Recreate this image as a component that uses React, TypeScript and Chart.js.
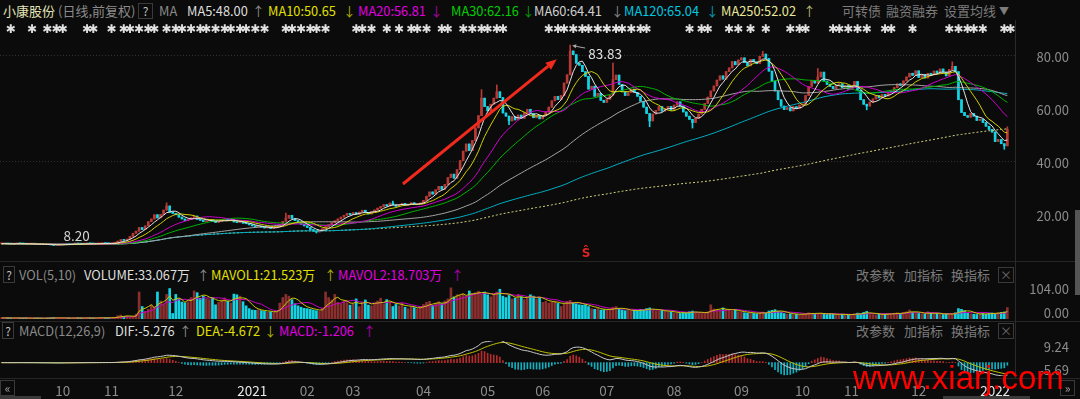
import React, { useEffect, useRef } from "react";
import { Chart, registerables } from "chart.js";

Chart.register(...registerables);

// ---------------- DATA ----------------
// Daily closes, one array per month (trading days)
const CLOSE_2020_09 = [8.85, 8.92, 8.8, 8.74, 8.81, 8.95, 8.88, 8.79, 8.7, 8.76, 8.82, 8.69, 8.63, 8.58, 8.61, 8.52, 8.44, 8.3, 8.38, 8.47];
const CLOSE_2020_10 = [8.62, 8.7, 8.66, 8.78, 8.85, 8.79, 8.72, 8.8, 8.91, 8.86, 8.78, 8.83, 8.95, 9.02, 8.94, 8.88];
const CLOSE_2020_11 = [9.05, 9.2, 9.85, 10.4, 10.15, 10.6, 11.66, 12.83, 13.6, 14.96, 14.2, 15.6, 17.16, 18.2, 19.8, 18.6, 19.9, 21.56, 23.1, 20.8, 20.3];
const CLOSE_2020_12 = [19.8, 18.9, 18.2, 17.6, 17.95, 18.6, 19.3, 18.1, 17.7, 17.2, 17.55, 17.9, 17.4, 16.9, 17.3, 17.8, 18.2, 17.6, 17.9, 17.1, 16.8, 17.2, 16.6];
const CLOSE_2021_01 = [16.4, 16.0, 15.6, 15.2, 15.5, 15.1, 14.8, 15.0, 14.6, 14.9, 15.3, 16.2, 17.3, 18.5, 19.6, 18.4, 17.6, 17.0, 16.2, 15.6];
const CLOSE_2021_02 = [15.0, 14.2, 13.6, 13.3, 13.8, 14.5, 15.3, 16.1, 16.8, 17.5, 18.2, 18.9, 19.6, 20.3, 19.8];
const CLOSE_2021_03 = [20.6, 19.9, 20.8, 21.5, 20.7, 20.1, 20.9, 21.6, 22.3, 22.9, 23.6, 23.1, 24.2, 23.5, 23.0, 23.7, 24.1, 23.4, 23.8, 24.3, 23.6, 23.9, 24.2];
const CLOSE_2021_04 = [25.2, 26.8, 28.4, 27.6, 29.2, 30.5, 29.4, 31.2, 33.8, 35.1, 33.6, 36.8, 40.2, 43.8, 46.5, 44.0, 47.8, 52.6, 57.2, 63.8, 60.6];
const CLOSE_2021_05 = [59.0, 61.5, 63.8, 66.2, 64.0, 58.2, 57.0, 55.2, 56.8, 55.6, 57.4, 56.2, 58.3, 59.6, 58.0, 56.4, 57.3, 56.0];
const CLOSE_2021_06 = [57.2, 58.6, 60.4, 62.8, 64.5, 63.2, 64.8, 69.5, 72.6, 81.6, 80.2, 77.0, 76.2, 73.8, 72.0, 67.2, 68.3, 64.5, 65.6, 63.0, 62.2];
const CLOSE_2021_07 = [63.4, 64.9, 70.8, 72.5, 69.0, 66.2, 64.8, 65.9, 67.2, 66.0, 64.5, 62.6, 60.4, 58.0, 55.2, 57.8, 59.2, 60.6, 58.9, 59.8, 60.7, 59.3];
const CLOSE_2021_08 = [61.2, 62.4, 60.8, 58.6, 57.0, 55.8, 54.6, 56.2, 57.8, 59.6, 61.8, 64.2, 66.5, 68.4, 70.6, 72.2, 71.0, 73.8, 75.2, 77.6, 76.4, 78.2];
const CLOSE_2021_09 = [79.0, 77.2, 76.0, 78.4, 77.5, 76.8, 79.6, 80.4, 78.8, 74.0, 70.2, 66.5, 63.2, 60.8, 59.5, 60.2, 59.0, 60.6, 59.8, 61.2];
const CLOSE_2021_10 = [61.6, 64.8, 68.2, 70.4, 69.5, 71.8, 73.6, 70.2, 69.0, 68.2, 67.4, 68.6, 69.2, 67.8, 68.5, 67.2];
const CLOSE_2021_11 = [68.4, 70.1, 66.8, 63.2, 61.5, 60.8, 62.3, 63.5, 64.8, 63.9, 65.2, 64.6, 65.8, 66.5, 67.8, 69.2, 68.6, 70.3, 71.8, 73.2, 72.4, 74.1];
const CLOSE_2021_12 = [71.6, 72.8, 71.4, 73.2, 72.6, 74.0, 73.2, 74.8, 73.6, 72.2, 74.6, 75.8, 73.8, 63.2, 58.4, 57.2, 56.6, 58.0, 57.0, 55.4, 55.8, 54.6, 53.2];
const CLOSE_2022_01 = [52.0, 51.0, 47.4, 48.2, 46.6, 45.8, 52.0];

// Daily volume (万手), one array per month
const VOL_2020_09 = [3.2, 2.8, 3.5, 2.6, 2.9, 3.1, 2.4, 2.7, 3.0, 2.5, 2.2, 2.6, 2.9, 2.4, 2.1, 2.8, 3.4, 4.1, 3.0, 2.6];
const VOL_2020_10 = [2.5, 2.8, 3.1, 2.6, 2.9, 3.3, 2.7, 2.4, 3.6, 3.0, 2.6, 2.8, 3.9, 4.4, 3.2, 2.9];
const VOL_2020_11 = [3.5, 5.2, 9.8, 11.5, 7.6, 8.9, 6.2, 5.5, 14.0, 78.0, 36.0, 22.0, 28.0, 41.0, 35.0, 78.0, 52.0, 44.0, 71.0, 88.0, 16.0];
const VOL_2020_12 = [71, 58, 49, 47, 50, 62, 81, 76, 60, 66, 58, 56, 62, 41, 48, 55, 61, 52, 46, 72, 70, 66, 50];
const VOL_2021_01 = [38, 30, 26, 25, 27, 24, 22, 20, 21, 19, 23, 46, 62, 71, 66, 56, 44, 38, 34, 31];
const VOL_2021_02 = [30, 28, 26, 24, 22, 31, 78, 62, 55, 71, 48, 44, 52, 47, 40];
const VOL_2021_03 = [45, 58, 36, 48, 55, 40, 38, 46, 52, 60, 44, 56, 48, 36, 42, 38, 46, 34, 30, 36, 33, 29, 35];
const VOL_2021_04 = [42, 48, 51, 39, 46, 50, 44, 52, 58, 90, 64, 70, 68, 72, 66, 81, 74, 76, 80, 72, 78];
const VOL_2021_05 = [70, 64, 72, 78, 86, 66, 62, 68, 58, 60, 71, 64, 56, 61, 70, 66, 58, 62];
const VOL_2021_06 = [48, 51, 46, 50, 52, 45, 36, 44, 51, 54, 46, 44, 41, 40, 41, 36, 30, 28, 31, 26, 27];
const VOL_2021_07 = [26, 28, 34, 36, 30, 26, 24, 25, 23, 26, 24, 28, 27, 30, 32, 26, 24, 23, 25, 22, 21, 20];
const VOL_2021_08 = [18, 17, 16, 19, 18, 21, 23, 20, 17, 16, 18, 21, 41, 29, 27, 25, 32, 28, 26, 23, 25, 21];
const VOL_2021_09 = [20, 18, 17, 19, 16, 15, 18, 20, 17, 23, 25, 27, 22, 19, 16, 14, 15, 13, 14, 13];
const VOL_2021_10 = [14, 16, 18, 17, 15, 16, 17, 14, 13, 15, 14, 13, 12, 14, 13, 12];
const VOL_2021_11 = [13, 15, 17, 16, 19, 22, 15, 13, 12, 14, 13, 15, 16, 14, 17, 18, 16, 19, 21, 26, 20, 18];
const VOL_2021_12 = [16, 15, 14, 21, 17, 15, 16, 14, 13, 15, 14, 16, 18, 30, 28, 24, 17, 15, 14, 13, 15, 16, 14];
const VOL_2022_01 = [17.0, 17.5, 16.5, 18.4, 19.2, 20.4, 33.07];

// Notable wick extremes: [day index, price]
const HIGH_WICKS = [[54, 24.3], [93, 20.4], [128, 25.0], [157, 67.0], [162, 68.8], [186, 83.83], [200, 77.0], [249, 81.5], [267, 75.0], [311, 77.5], [329, 53.0]];
const LOW_WICKS = [[17, 8.2], [103, 12.9], [166, 53.8], [212, 53.0], [226, 52.5], [283, 59.4], [328, 44.5]];

// Month tick labels (first trading day of each month after the first, partial month)
const MONTH_TICK_LABELS = ["10", "11", "12", "2021", "02", "03", "04", "05", "06", "07", "08", "09", "10", "11", "12", "2022"];

// Axis tick values
const PRICE_TICKS = [20, 40, 60, 80];
const PRICE_GRID = [40, 80];
const VOL_AXIS = [0, 104];
const MACD_AXIS = [-5.69, 9.24];

// Information-mine markers (day indices)
const INFO_MARKER_DAYS = [3, 10, 15, 18, 20, 28, 30, 36, 40, 42, 45, 48, 50, 54, 57, 59, 62, 65, 67, 70, 73, 75, 78, 80, 83, 86, 93, 95, 98, 101, 103, 106, 116, 118, 121, 126, 130, 134, 136, 139, 144, 146, 151, 154, 157, 159, 162, 164, 179, 182, 184, 187, 190, 192, 195, 198, 201, 203, 206, 209, 211, 225, 229, 231, 238, 241, 245, 250, 258, 261, 263, 272, 274, 277, 280, 283, 289, 291, 298, 310, 313, 316, 318, 321, 328, 330];

// Red trend-arrow annotation in data coordinates [day index, price]
const TREND_ARROW_FROM = [131.3, 31.4];
const TREND_ARROW_TO = [181.6, 78.5];
const S_MARK = [191.2, 5.0];

// ---------------- DERIVED ----------------
const MONTHS_CLOSE = [CLOSE_2020_09, CLOSE_2020_10, CLOSE_2020_11, CLOSE_2020_12, CLOSE_2021_01, CLOSE_2021_02, CLOSE_2021_03, CLOSE_2021_04, CLOSE_2021_05, CLOSE_2021_06, CLOSE_2021_07, CLOSE_2021_08, CLOSE_2021_09, CLOSE_2021_10, CLOSE_2021_11, CLOSE_2021_12, CLOSE_2022_01];
const MONTHS_VOL = [VOL_2020_09, VOL_2020_10, VOL_2020_11, VOL_2020_12, VOL_2021_01, VOL_2021_02, VOL_2021_03, VOL_2021_04, VOL_2021_05, VOL_2021_06, VOL_2021_07, VOL_2021_08, VOL_2021_09, VOL_2021_10, VOL_2021_11, VOL_2021_12, VOL_2022_01];
const CLOSES: number[] = MONTHS_CLOSE.flat();
const VOLUMES: number[] = MONTHS_VOL.flat();
const N = CLOSES.length;
const SLOTS = N + 2;
const OPENS = CLOSES.map((c, i) => (i === 0 ? c : CLOSES[i - 1]));
const hiMap = new Map(HIGH_WICKS.map(([i, v]) => [i, v]));
const loMap = new Map(LOW_WICKS.map(([i, v]) => [i, v]));
const HIGHS = CLOSES.map((c, i) => Math.max(c, OPENS[i], hiMap.get(i) ?? -Infinity));
const LOWS = CLOSES.map((c, i) => Math.min(c, OPENS[i], loMap.get(i) ?? Infinity));
const UP = CLOSES.map((c, i) => c >= OPENS[i]);

const MONTH_START: number[] = [];
{
  let acc = 0;
  for (const m of MONTHS_CLOSE) { MONTH_START.push(acc); acc += m.length; }
}
const YEAR_LABEL_SHIFT = 2;
const TICK_AT = new Map<number, string>();
MONTH_TICK_LABELS.forEach((lab, k) => {
  const s = MONTH_START[k + 1] + (lab.length === 4 ? YEAR_LABEL_SHIFT : 0);
  TICK_AT.set(s, lab);
});

function sma(vals: number[], n: number) {
  return vals.map((_, i) => {
    const s = Math.max(0, i - n + 1);
    let sum = 0;
    for (let k = s; k <= i; k++) sum += vals[k];
    return sum / (i - s + 1);
  });
}
function ema(vals: number[], n: number) {
  const a = 2 / (n + 1);
  const out: number[] = [];
  let prev = vals[0];
  vals.forEach((v, i) => { prev = i === 0 ? v : a * v + (1 - a) * prev; out.push(prev); });
  return out;
}
const E12 = ema(CLOSES, 12);
const E26 = ema(CLOSES, 26);
const DIF = E12.map((v, i) => v - E26[i]);
const DEA = ema(DIF, 9);
const MACD = DIF.map((v, i) => 2 * (v - DEA[i]));

// ---------------- STYLE ----------------
const BG = "#0b0b0b";
const RED = "#b83a36";
const CYAN = "#14d4e4";
const VOL_RED = "#8a2e2e";
const FONT = '"Noto Sans CJK SC", "Noto Sans", sans-serif';
const AXIS_W = 54;
const PAD_R = 11;
const HS = 12.8; // header latin font size
const MA_STYLE = [
  { n: 5, color: "#e4e4e4", dash: [] as number[] },
  { n: 10, color: "#d2d200", dash: [] },
  { n: 20, color: "#d000d0", dash: [] },
  { n: 30, color: "#00b400", dash: [] },
  { n: 60, color: "#a4a4a4", dash: [] },
  { n: 120, color: "#00aec4", dash: [] },
  { n: 250, color: "#d6d680", dash: [2, 2] },
];

const LABELS = Array.from({ length: SLOTS }, (_, i) => String(i));

function xScale(display: boolean): any {
  const s: any = {
    type: "category",
    offset: true,
    display,
    grid: { display: false, drawTicks: true, tickLength: 7 },
    border: { display: false },
    ticks: {
      autoSkip: false,
      maxRotation: 0,
      minRotation: 0,
      padding: 0,
      color: (c: any) => ((TICK_AT.get(c.index) || "").length === 4 ? "#e8e8e8" : "#8c8c8c"),
      font: { family: FONT, size: 13.5 },
      callback: (_v: any, i: number) => TICK_AT.get(i) ?? "",
    },
    afterFit: (sc: any) => {
      sc.paddingLeft = 0;
      sc.paddingRight = 0;
      if (display) sc.height = 23;
    },
  };
  return s;
}

function yFit(s: any) {
  s.width = AXIS_W;
  s.paddingTop = 0;
  s.paddingBottom = 0;
}

function edgeTicks(min: number, max: number, areaH: number, insetPx: number) {
  const inset = ((max - min) * insetPx) / areaH;
  return {
    afterBuildTicks: (s: any) => { s.ticks = [{ value: min + inset }, { value: max - inset }]; },
    ticks: {
      autoSkip: false,
      color: "#8c8c8c",
      font: { family: FONT, size: 13 },
      padding: 0,
      crossAlign: "far",
      callback: (_v: any, i: number) => (i === 0 ? min : max).toFixed(2),
    },
  };
}

function drawArrow(ctx: CanvasRenderingContext2D, x1: number, y1: number, x2: number, y2: number, color: string, w: number, hl: number, hw: number) {
  const a = Math.atan2(y2 - y1, x2 - x1);
  const bx = x2 - hl * Math.cos(a);
  const by = y2 - hl * Math.sin(a);
  ctx.strokeStyle = color;
  ctx.lineWidth = w;
  ctx.beginPath();
  ctx.moveTo(x1, y1);
  ctx.lineTo(bx, by);
  ctx.stroke();
  ctx.fillStyle = color;
  ctx.beginPath();
  ctx.moveTo(x2, y2);
  ctx.lineTo(bx + (hw / 2) * Math.sin(a), by - (hw / 2) * Math.cos(a));
  ctx.lineTo(bx - (hw / 2) * Math.sin(a), by + (hw / 2) * Math.cos(a));
  ctx.closePath();
  ctx.fill();
}

const priceAnnotations = {
  id: "priceAnnotations",
  afterDatasetsDraw(chart: any) {
    const { ctx } = chart;
    const x = chart.scales.x;
    const y = chart.scales.y;
    ctx.save();
    // info markers row
    ctx.fillStyle = "#e0e0e0";
    ctx.font = 'bold 12px "DejaVu Sans"';
    ctx.textAlign = "center";
    ctx.textBaseline = "middle";
    for (const d of INFO_MARKER_DAYS) ctx.fillText("\u2731", x.getPixelForValue(d), 10);
    // peak label
    let pk = 0;
    HIGHS.forEach((h, i) => { if (h > HIGHS[pk]) pk = i; });
    const px = x.getPixelForValue(pk);
    const py = y.getPixelForValue(HIGHS[pk]);
    drawArrow(ctx, px + 15, py + 3, px + 2, py + 0.5, "#a8a8a8", 1, 4, 4);
    ctx.fillStyle = "#e2e2e2";
    ctx.font = `13.5px ${FONT}`;
    ctx.textAlign = "left";
    ctx.fillText(HIGHS[pk].toFixed(2), px + 18, py + 9);
    // low label
    let lo = 0;
    LOWS.forEach((l, i) => { if (l < LOWS[lo]) lo = i; });
    const lx = x.getPixelForValue(lo);
    const ly = y.getPixelForValue(LOWS[lo]);
    ctx.fillStyle = "#d4d4d4";
    ctx.fillText(LOWS[lo].toFixed(2), lx + 10, ly - 9.5);
    // trend arrow
    drawArrow(
      ctx,
      x.getPixelForValue(TREND_ARROW_FROM[0]), y.getPixelForValue(TREND_ARROW_FROM[1]),
      x.getPixelForValue(TREND_ARROW_TO[0]), y.getPixelForValue(TREND_ARROW_TO[1]),
      "#f02a1c", 3, 11, 9
    );
    // S marker
    ctx.fillStyle = "#e02424";
    ctx.font = 'bold 12px "DejaVu Sans"';
    ctx.textAlign = "center";
    ctx.fillText("\u015C", x.getPixelForValue(S_MARK[0]), y.getPixelForValue(S_MARK[1]));
    ctx.restore();
  },
};

function Txt({ x, y, c, s = HS, children }: any) {
  return (
    <span style={{ position: "absolute", left: x, top: y - s * 0.75, fontSize: s, lineHeight: `${s * 1.5}px`, color: c, whiteSpace: "nowrap", fontFamily: FONT }}>
      {children}
    </span>
  );
}
function Box({ x, y, w, h, children, c = "#c0c0c0" }: any) {
  return (
    <div style={{ position: "absolute", left: x, top: y, width: w, height: h, border: "1px solid #3a3a3a", boxSizing: "border-box", color: c, fontSize: 12, lineHeight: `${h - 2}px`, textAlign: "center", fontFamily: FONT }}>
      {children}
    </div>
  );
}
function Line({ x, y, w, h, c = "#262626" }: any) {
  return <div style={{ position: "absolute", left: x, top: y, width: w, height: h, background: c }} />;
}

export default function App() {
  const priceRef = useRef<HTMLCanvasElement>(null);
  const volRef = useRef<HTMLCanvasElement>(null);
  const macdRef = useRef<HTMLCanvasElement>(null);

  useEffect(() => {
    const charts: Chart[] = [];
    const common: any = {
      responsive: false,
      animation: false,
      devicePixelRatio: 1,
      events: [],
      plugins: { legend: { display: false }, tooltip: { enabled: false } },
    };

    // ---- Price chart ----
    charts.push(
      new Chart(priceRef.current!, {
        type: "bar",
        data: {
          labels: LABELS,
          datasets: [
            ...MA_STYLE.map((m) => ({
              type: "line" as const,
              data: sma(CLOSES, m.n),
              borderColor: m.color,
              borderWidth: 1,
              borderDash: m.dash,
              pointRadius: 0,
              tension: 0,
              fill: false,
              order: 0,
            })),
            {
              type: "bar" as const,
              data: CLOSES.map((c, i) => [OPENS[i], c]),
              backgroundColor: UP.map((u) => (u ? RED : CYAN)),
              barThickness: 2,
              grouped: false,
              minBarLength: 1,
              order: 1,
            },
            {
              type: "bar" as const,
              data: CLOSES.map((_c, i) => [LOWS[i], HIGHS[i]]),
              backgroundColor: UP.map((u) => (u ? RED : CYAN)),
              barThickness: 1,
              grouped: false,
              order: 2,
            },
          ] as any,
        },
        options: {
          ...common,
          layout: { padding: { left: 0, right: PAD_R, top: 18, bottom: 0 } },
          scales: {
            x: xScale(false),
            y: {
              position: "right",
              min: 3.1,
              max: 86.5,
              afterBuildTicks: (s: any) => { s.ticks = PRICE_TICKS.map((v) => ({ value: v })); },
              afterFit: yFit,
              ticks: {
                color: "#8c8c8c",
                font: { family: FONT, size: 13 },
                padding: 0,
                crossAlign: "far",
                labelOffset: 2,
                callback: (v: any) => Number(v).toFixed(2),
              },
              grid: {
                drawTicks: false,
                color: (c: any) => (PRICE_GRID.includes(c.tick?.value) ? "#303030" : "rgba(0,0,0,0)"),
              },
              border: { display: false, dash: [1, 2] },
            },
          },
        } as any,
        plugins: [priceAnnotations],
      })
    );

    // ---- Volume chart ----
    const volEdge = edgeTicks(VOL_AXIS[0], VOL_AXIS[1], 36, 6);
    charts.push(
      new Chart(volRef.current!, {
        type: "bar",
        data: {
          labels: LABELS,
          datasets: [
            { type: "line" as const, data: sma(VOLUMES, 5), borderColor: "#c8c800", borderWidth: 1, pointRadius: 0, order: 0 },
            { type: "line" as const, data: sma(VOLUMES, 10), borderColor: "#c800c8", borderWidth: 1, pointRadius: 0, order: 0 },
            {
              type: "bar" as const,
              data: VOLUMES,
              backgroundColor: UP.map((u) => (u ? VOL_RED : CYAN)),
              barThickness: 2,
              grouped: false,
              order: 1,
            },
          ] as any,
        },
        options: {
          ...common,
          layout: { padding: { left: 0, right: PAD_R, top: 0, bottom: 0 } },
          scales: {
            x: xScale(false),
            y: {
              position: "right",
              min: VOL_AXIS[0],
              max: VOL_AXIS[1],
              afterFit: yFit,
              grid: { display: false, drawTicks: false },
              border: { display: false },
              ...volEdge,
            },
          },
        } as any,
      })
    );

    // ---- MACD chart ----
    const macdEdge = edgeTicks(MACD_AXIS[0], MACD_AXIS[1], 35, 6);
    charts.push(
      new Chart(macdRef.current!, {
        type: "bar",
        data: {
          labels: LABELS,
          datasets: [
            { type: "line" as const, data: DIF, borderColor: "#c8c8c8", borderWidth: 1, pointRadius: 0, order: 0 },
            { type: "line" as const, data: DEA, borderColor: "#c0c000", borderWidth: 1, pointRadius: 0, order: 0 },
            {
              type: "bar" as const,
              data: MACD,
              backgroundColor: MACD.map((v) => (v >= 0 ? "#b42c2c" : "#12b0c0")),
              barThickness: 1,
              grouped: false,
              order: 1,
            },
          ] as any,
        },
        options: {
          ...common,
          layout: { padding: { left: 0, right: PAD_R, top: 0, bottom: 0 } },
          scales: {
            x: xScale(true),
            y: {
              position: "right",
              min: MACD_AXIS[0],
              max: MACD_AXIS[1],
              afterFit: yFit,
              grid: { display: false, drawTicks: false },
              border: { display: false },
              ...macdEdge,
            },
          },
        } as any,
      })
    );

    return () => charts.forEach((c) => c.destroy());
  }, []);

  const gray = "#8a8a8a";
  const btn = "#7c7c7c";
  return (
    <div style={{ position: "fixed", left: 0, top: 0, width: 1080, height: 399, background: BG, overflow: "hidden", fontFamily: FONT }}>
      {/* header row */}
      <Txt x={3} y={11} c="#e2e2b6" s={13}>小康股份</Txt>
      <Txt x={58} y={11} c={gray} s={13}>(日线,前复权)</Txt>
      <Box x={138} y={3} w={15} h={16}>?</Box>
      <Txt x={159} y={11} c={gray}>MA</Txt>
      <Txt x={187} y={11} c="#dedede">MA5:48.00</Txt>
      <Txt x={252} y={11} c="#8a8a8a">↑</Txt>
      <Txt x={268} y={11} c="#e0e000">MA10:50.65</Txt>
      <Txt x={343} y={11} c="#b0b000">↓</Txt>
      <Txt x={358} y={11} c="#e000e0">MA20:56.81</Txt>
      <Txt x={430} y={11} c="#b000b0">↓</Txt>
      <Txt x={451} y={11} c="#00d000">MA30:62.16</Txt>
      <Txt x={522} y={11} c="#00a000">↓</Txt>
      <Txt x={534} y={11} c="#d0d0d0">MA60:64.41</Txt>
      <Txt x={611} y={11} c="#8a8a8a">↓</Txt>
      <Txt x={624} y={11} c="#00c8e0">MA120:65.04</Txt>
      <Txt x={706} y={11} c="#00a0b4">↓</Txt>
      <Txt x={721} y={11} c="#e8e89a">MA250:52.02</Txt>
      <Txt x={803} y={11} c="#b8b870">↑</Txt>
      <Txt x={842} y={11} c={btn} s={13}>可转债</Txt>
      <Txt x={886} y={11} c={btn} s={13}>融资融券</Txt>
      <Txt x={944} y={11} c={btn} s={13}>设置均线</Txt>
      <Txt x={999} y={10} c={btn} s={10}>▼</Txt>

      <canvas ref={priceRef} width={1080} height={239} style={{ position: "absolute", left: 0, top: 20, width: 1080, height: 239 }} />

      <Line x={0} y={261} w={1080} h={1} />
      {/* volume header */}
      <Box x={3} y={266} w={12} h={17}>?</Box>
      <Txt x={19} y={274.5} c={gray}>VOL(5,10)</Txt>
      <Txt x={84} y={274.5} c="#dedede">VOLUME:33.067万</Txt>
      <Txt x={197} y={274.5} c={gray}>↑</Txt>
      <Txt x={211} y={274.5} c="#e0e000">MAVOL1:21.523万</Txt>
      <Txt x={324} y={274.5} c="#b0b000">↑</Txt>
      <Txt x={338} y={274.5} c="#e000e0">MAVOL2:18.703万</Txt>
      <Txt x={451} y={274.5} c="#b000b0">↑</Txt>
      <Txt x={856} y={275} c={btn} s={13}>改参数</Txt>
      <Txt x={904} y={275} c={btn} s={13}>加指标</Txt>
      <Txt x={951} y={275} c={btn} s={13}>换指标</Txt>
      <Box x={998} y={267} w={16} h={16} c="#6a6a6a">×</Box>

      <canvas ref={volRef} width={1080} height={36} style={{ position: "absolute", left: 0, top: 283, width: 1080, height: 36 }} />

      <Line x={0} y={321} w={1080} h={1} />
      {/* macd header */}
      <Box x={2} y={322} w={12} h={17}>?</Box>
      <Txt x={19} y={330.5} c={gray}>MACD(12,26,9)</Txt>
      <Txt x={115} y={330.5} c="#dedede">DIF:-5.276</Txt>
      <Txt x={179} y={330.5} c={gray}>↑</Txt>
      <Txt x={196} y={330.5} c="#e0e000">DEA:-4.672</Txt>
      <Txt x={264} y={330.5} c="#b0b000">↓</Txt>
      <Txt x={279} y={330.5} c="#e000e0">MACD:-1.206</Txt>
      <Txt x={363} y={330.5} c="#b000b0">↑</Txt>
      <Txt x={856} y={330.5} c={btn} s={13}>改参数</Txt>
      <Txt x={904} y={330.5} c={btn} s={13}>加指标</Txt>
      <Txt x={951} y={330.5} c={btn} s={13}>换指标</Txt>
      <Box x={998} y={323} w={16} h={16} c="#6a6a6a">×</Box>

      <canvas ref={macdRef} width={1080} height={58} style={{ position: "absolute", left: 0, top: 341, width: 1080, height: 58 }} />

      <Line x={0} y={378} w={1080} h={1} />
      <Line x={1015} y={20} w={1} h={358} c="#2a2a2a" />
      <Line x={1075} y={210} w={5} h={85} c="#555555" />
      <Line x={0} y={396} w={41} h={3} c="#3a3a3a" />
      <Line x={943} y={396} w={87} h={3} c="#3a3a3a" />
      <Box x={0} y={380} w={15} h={16} c="#a0a0a0">«</Box>
      <Box x={1060} y={380} w={15} h={16} c="#a0a0a0">»</Box>

      {/* watermark */}
      <span style={{ position: "absolute", left: 853, top: 361, fontFamily: '"Liberation Sans", Arial, sans-serif', fontSize: 33, lineHeight: "33px", color: "#ff0000", whiteSpace: "nowrap" }}>
        www.xiarj.com
      </span>
    </div>
  );
}
